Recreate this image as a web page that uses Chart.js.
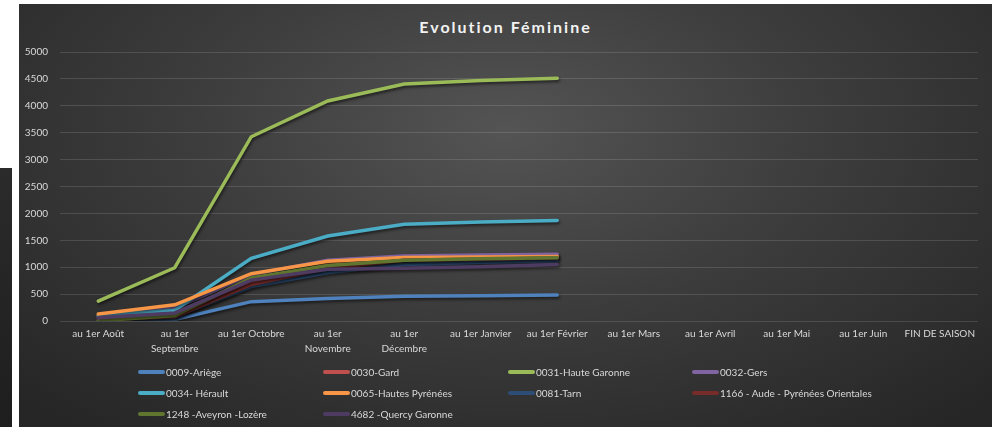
<!DOCTYPE html>
<html>
<head>
<meta charset="utf-8">
<script src="https://cdn.jsdelivr.net/npm/chart.js@4.4.0/dist/chart.umd.min.js"></script>
<style>
  html, body { margin: 0; padding: 0; background: #ffffff; width: 998px; height: 427px; overflow: hidden; }
  #sidePanel { position: absolute; left: 0; top: 168px; width: 12px; height: 259px; background: linear-gradient(180deg, #2b2b2b, #1e1e1e); }
  #panel {
    position: absolute; left: 19px; top: 4px; width: 973px; height: 423px;
    background: radial-gradient(ellipse 70% 90% at 50% 30%, #545454 0%, #3d3d3d 45%, #262626 100%);
    font-family: Lato, "Open Sans", sans-serif;
  }
  #titre { position: absolute; left: 0; top: 13px; width: 973px; text-align: center; color: #f2f2f2;
    font-size: 16px; font-weight: bold; line-height: 20px; letter-spacing: 2px; }
  #chartBox { position: absolute; left: 0; top: 0; width: 973px; height: 357px; }
  #legend { position: absolute; left: 0; top: 0; width: 973px; height: 423px; pointer-events: none; }
  .lg { position: absolute; display: flex; align-items: center; color: #d9d9d9; font-size: 10px; white-space: nowrap; }
  .lg span.ln { display: inline-block; width: 27px; height: 4px; border-radius: 2px; margin-right: 1px; }
</style>
</head>
<body>
<div id="sidePanel"></div>
<div id="panel">
  <div id="titre">Evolution Féminine</div>
  <div id="chartBox"><canvas id="graf" width="973" height="357"></canvas></div>
  <div id="legend"></div>
</div>
<script>
// mois (axe des x)
var mois = ['au 1er Août', ['au 1er', 'Septembre'], 'au 1er Octobre', ['au 1er', 'Novembre'], ['au 1er', 'Décembre'],
  'au 1er Janvier', 'au 1er Février', 'au 1er Mars', 'au 1er Avril', 'au 1er Mai', 'au 1er Juin', 'FIN DE SAISON']

// valeurs par comité (Août -> Février)
var ariege         = [10, 30, 360, 420, 460, 470, 485]
var gard           = [60, 120, 700, 1050, 1190, 1205, 1215]
var hauteGaronne   = [370, 990, 3425, 4090, 4405, 4470, 4510]
var gers           = [90, 240, 860, 1130, 1210, 1225, 1240]
var herault        = [100, 200, 1165, 1580, 1800, 1840, 1870]
var hautesPyrenees = [130, 300, 880, 1110, 1180, 1190, 1200]
var tarn           = [30, 80, 640, 900, 1050, 1090, 1120]
var aude           = [20, 80, 680, 980, 1130, 1150, 1170]
var aveyron        = [5, 100, 800, 1030, 1130, 1155, 1175]
var quercy         = [60, 150, 760, 960, 980, 1010, 1050]

var yTicks = [0, 500, 1000, 1500, 2000, 2500, 3000, 3500, 4000, 4500, 5000]

var series = [
  { nom: '0009-Ariège', data: ariege, couleur: '#4F81BD' },
  { nom: '0030-Gard', data: gard, couleur: '#C0504D' },
  { nom: '0031-Haute Garonne', data: hauteGaronne, couleur: '#9BBB59' },
  { nom: '0032-Gers', data: gers, couleur: '#8064A2' },
  { nom: '0034- Hérault', data: herault, couleur: '#4BACC6' },
  { nom: '0065-Hautes Pyrénées', data: hautesPyrenees, couleur: '#F79646' },
  { nom: '0081-Tarn', data: tarn, couleur: '#2C4D75' },
  { nom: '1166 - Aude - Pyrénées Orientales', data: aude, couleur: '#772C2A' },
  { nom: '1248 -Aveyron -Lozère', data: aveyron, couleur: '#5F7530' },
  { nom: '4682 -Quercy Garonne', data: quercy, couleur: '#4D3B62' }
]

var ombre = {
  id: 'ombre',
  beforeDatasetsDraw: function(chart) {
    var ctx = chart.ctx
    ctx.save()
    ctx.shadowColor = 'rgba(0,0,0,0.55)'
    ctx.shadowBlur = 3
    ctx.shadowOffsetX = 1
    ctx.shadowOffsetY = 2
  },
  afterDatasetsDraw: function(chart) {
    chart.ctx.restore()
  }
}

var ctx = document.getElementById('graf')
new Chart(ctx, {
  type: 'line',
  data: {
    labels: mois,
    datasets: series.map(function(s, i) {
      return {
        label: s.nom,
        data: s.data,
        borderColor: s.couleur,
        backgroundColor: s.couleur,
        borderWidth: 3.5,
        pointRadius: 0,
        tension: 0,
        borderCapStyle: 'round',
        order: series.length - i
      }
    })
  },
  options: {
    responsive: false,
    animation: false,
    devicePixelRatio: 1,
    layout: { padding: { left: 0, right: 14, top: 48, bottom: 0 } },
    plugins: {
      legend: { display: false },
      tooltip: { enabled: false },
      title: { display: false }
    },
    scales: {
      x: {
        offset: true,
        grid: { display: false },
        border: { display: false },
        ticks: {
          color: '#d9d9d9',
          font: { family: 'Lato', size: 10, lineHeight: 1.5 },
          maxRotation: 0,
          autoSkip: false,
          padding: -3
        },
        afterFit: function(scale) { scale.height = 40 }
      },
      y: {
        min: 0,
        max: 5000,
        afterBuildTicks: function(scale) { scale.ticks = yTicks.map(function(v) { return { value: v } }) },
        grid: { color: 'rgba(255,255,255,0.13)', drawTicks: false, lineWidth: 1 },
        border: { display: false },
        ticks: {
          color: '#d9d9d9',
          font: { family: 'Lato', size: 10 },
          padding: 12,
          callback: function(v) { return String(v) }
        },
        afterFit: function(scale) { scale.width = 41 }
      }
    }
  },
  plugins: [ombre]
})

// légende en 4 colonnes
var colX = [119, 304, 489, 673]
var rowY = [368, 389, 410]
var legend = document.getElementById('legend')
series.forEach(function(s, i) {
  var col = i % 4
  var row = Math.floor(i / 4)
  legend.insertAdjacentHTML('beforeend', `
    <div class="lg" style="left:${colX[col]}px; top:${rowY[row] - 7}px; height:14px;">
      <span class="ln" style="background:${s.couleur}"></span>${s.nom}
    </div>
  `)
})
</script>
</body>
</html>
